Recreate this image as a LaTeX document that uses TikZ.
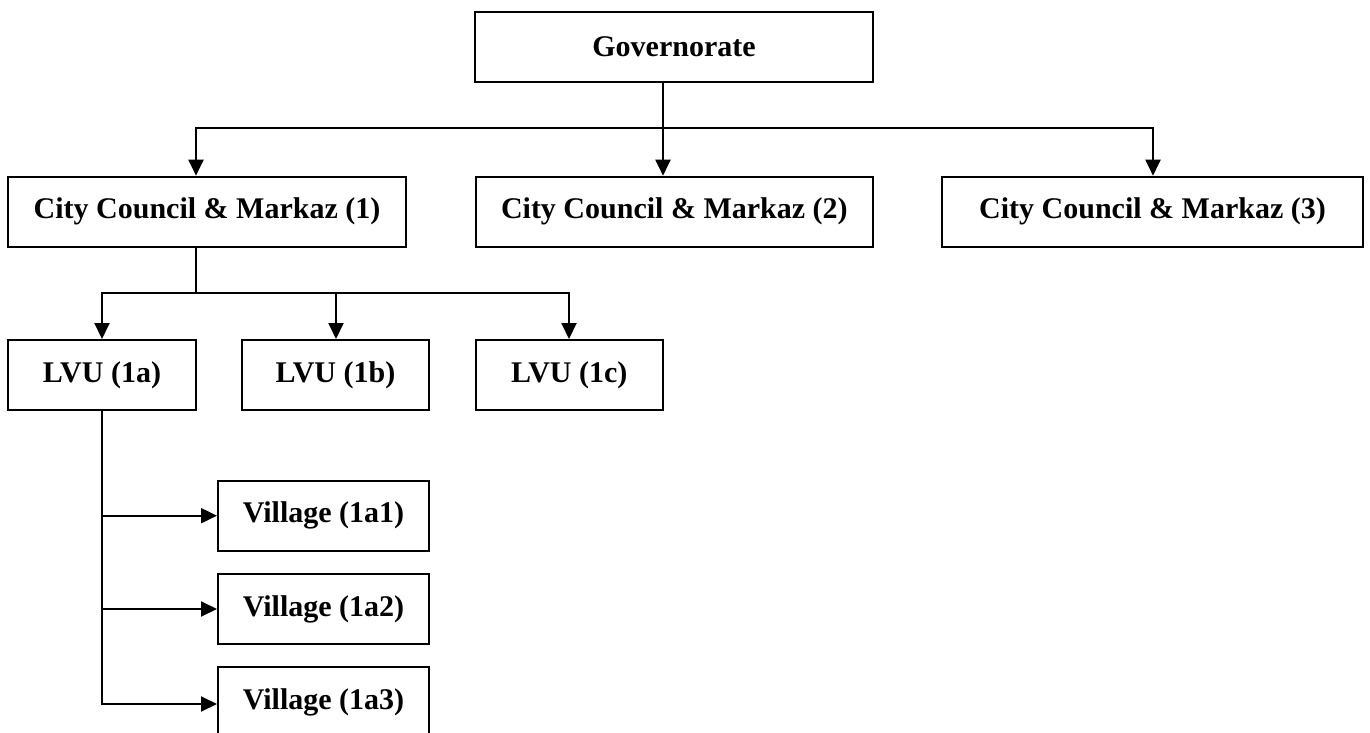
\documentclass[tikz,border=0pt]{standalone}
\usepackage{fontspec}
\setmainfont{Liberation Serif}
\usetikzlibrary{arrows.meta}

\tikzset{
  orgbox/.style={draw=black, line width=2pt, inner sep=0pt, minimum height=70pt,
    font=\fontsize{30}{36}\selectfont\bfseries, text=black},
  link/.style={draw=black, line width=2pt, line join=miter},
  tip/.tip={Triangle[length=16pt, width=15pt]},
  toarrow/.style={link, -tip},
  twoarrow/.style={link, tip-tip}
}

\begin{document}
\begin{tikzpicture}[x=1pt, y=-1pt]
  \useasboundingbox (0,0) rectangle (1370,733);

  % top level
  \node[orgbox, minimum width=398pt, minimum height=69.4pt] (gov) at (674,47) {Governorate};

  % second level
  \node[orgbox, minimum width=398pt] (city1) at (207,211.7) {City Council \& Markaz (1)};
  \node[orgbox, minimum width=397pt] (city2) at (674.3,211.7) {City Council \& Markaz (2)};
  \node[orgbox, minimum width=421pt] (city3) at (1152.5,211.7) {City Council \& Markaz (3)};

  % third level
  \node[orgbox, minimum width=188pt] (lvua) at (102,375) {LVU (1a)};
  \node[orgbox, minimum width=187pt] (lvub) at (335.4,375) {LVU (1b)};
  \node[orgbox, minimum width=187pt] (lvuc) at (569.2,375) {LVU (1c)};

  % villages
  \node[orgbox, minimum width=211pt] (v1) at (323.5,515.7) {Village (1a1)};
  \node[orgbox, minimum width=211pt] (v2) at (323.5,609) {Village (1a2)};
  \node[orgbox, minimum width=211pt] (v3) at (323.5,702) {Village (1a3)};

  % bus coordinates
  \coordinate (g0) at (663,128);
  \coordinate (t1) at (196,128);
  \coordinate (t3) at (1153,128);
  \coordinate (u0) at (196,293);
  \coordinate (ua) at (102,293);
  \coordinate (ub) at (336,293);
  \coordinate (uc) at (569,293);
  \coordinate (w0) at (102,704);

  % governorate to city councils
  \draw[toarrow] (gov.south -| g0) -- (city2.north -| g0);
  \draw[twoarrow] (city1.north -| t1) -- (t1) -- (t3) -- (city3.north -| t3);

  % city council (1) to LVUs
  \draw[link] (city1.south -| u0) -- (u0);
  \draw[twoarrow] (lvua.north -| ua) -- (ua) -- (uc) -- (lvuc.north -| uc);
  \draw[toarrow] (ub) -- (lvub.north -| ub);

  % LVU (1a) to villages
  \draw[toarrow] (lvua.south -| w0) -- (w0) -- (v3.west |- w0);
  \draw[toarrow] (v1.west -| w0) -- (v1.west);
  \draw[toarrow] (v2.west -| w0) -- (v2.west);
\end{tikzpicture}
\end{document}
